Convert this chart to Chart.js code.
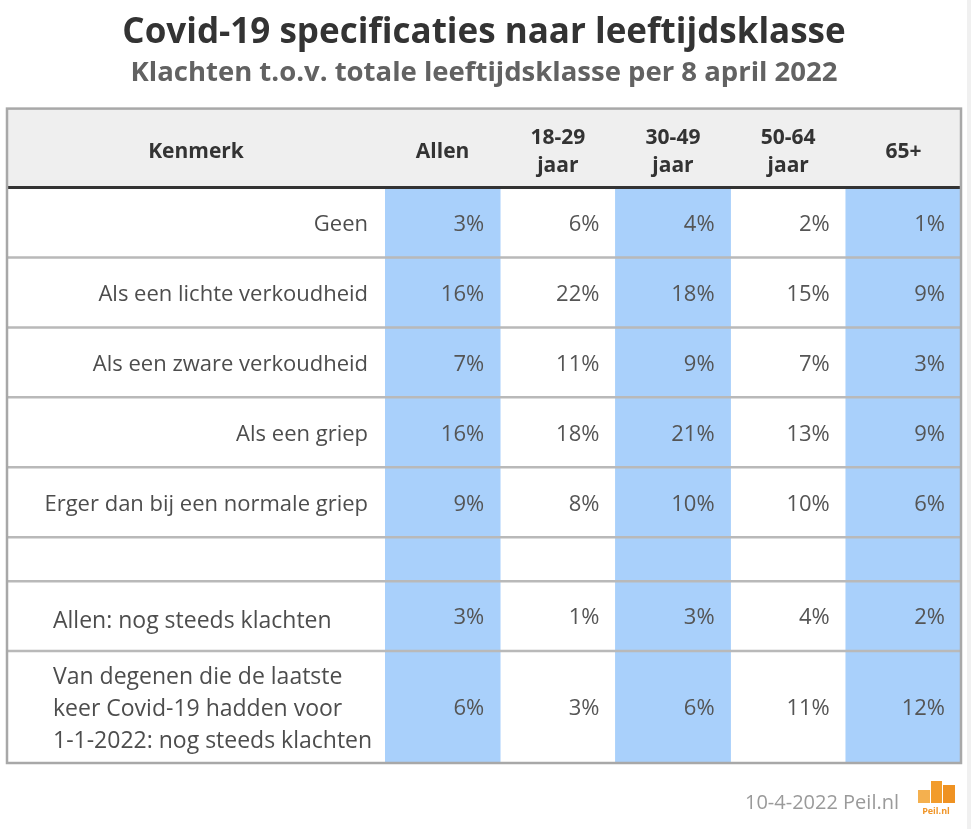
<!DOCTYPE html>
<html>
<head>
<meta charset="utf-8">
<script src="https://cdn.jsdelivr.net/npm/chart.js@4.4.1/dist/chart.umd.min.js"></script>
<style>
  html, body { margin: 0; padding: 0; background: #fff; }
  canvas { display: block; }
</style>
</head>
<body>
<canvas id="table" width="971" height="829"></canvas>
<script>
// rows of the table (Kenmerk)
const rowLabels = [
  "Geen",
  "Als een lichte verkoudheid",
  "Als een zware verkoudheid",
  "Als een griep",
  "Erger dan bij een normale griep",
  "",
  "Allen: nog steeds klachten",
  "Van degenen die de laatste\nkeer Covid-19 hadden voor\n1-1-2022: nog steeds klachten",
];

// column headers
const columnLabels = [["Allen"], ["18-29", "jaar"], ["30-49", "jaar"], ["50-64", "jaar"], ["65+"]];

// percentages per column
const allen = [3, 16, 7, 16, 9, null, 3, 6];
const jaar18_29 = [6, 22, 11, 18, 8, null, 1, 3];
const jaar30_49 = [4, 18, 9, 21, 10, null, 3, 6];
const jaar50_64 = [2, 15, 7, 13, 10, null, 4, 11];
const jaar65plus = [1, 9, 3, 9, 6, null, 2, 12];
const series = [allen, jaar18_29, jaar30_49, jaar50_64, jaar65plus];

// layout of the table
const headerHeight = 79;
const rowHeights = [70, 70, 70, 70, 70, 44, 70, 112];
const shadedColumns = [0, 2, 4];
const leftAlignedFrom = 6;

const rowTops = [];
let acc = headerHeight;
rowHeights.forEach((h) => { rowTops.push(acc); acc += h; });
const tableBottom = acc;

const FONT = "'Open Sans', 'Noto Sans', sans-serif";

const shadeData = columnLabels.map((_, i) =>
  shadedColumns.includes(i) ? [headerHeight, tableBottom] : null
);

const tablePlugin = {
  id: "tablePlugin",
  beforeDraw(chart) {
    const { ctx, width, height } = chart;
    ctx.save();
    ctx.fillStyle = "#fff";
    ctx.fillRect(0, 0, width, height);
    ctx.fillStyle = "#f0f0f0";
    ctx.fillRect(width - 4, 0, 4, height);
    ctx.restore();
  },
  beforeDatasetsDraw(chart) {
    const { ctx, chartArea, scales: { y } } = chart;
    const top = y.getPixelForValue(0);
    const bottom = y.getPixelForValue(headerHeight);
    ctx.save();
    ctx.fillStyle = "#efefef";
    ctx.fillRect(y.left, top, chartArea.right - y.left, bottom - top);
    ctx.restore();
  },
  afterDatasetsDraw(chart) {
    const { ctx, chartArea, scales: { x, y } } = chart;
    const left = y.left;
    const right = chartArea.right;
    ctx.save();

    // row separators
    ctx.strokeStyle = "#b9b9b9";
    ctx.lineWidth = 2.5;
    rowTops.slice(1).forEach((t) => {
      const py = y.getPixelForValue(t);
      ctx.beginPath();
      ctx.moveTo(left, py);
      ctx.lineTo(right, py);
      ctx.stroke();
    });

    // header bottom line
    ctx.strokeStyle = "#333";
    ctx.lineWidth = 3;
    const hb = y.getPixelForValue(headerHeight);
    ctx.beginPath();
    ctx.moveTo(left, hb);
    ctx.lineTo(right, hb);
    ctx.stroke();

    // outer border
    ctx.strokeStyle = "#a8a8a8";
    ctx.lineWidth = 2.5;
    const top = y.getPixelForValue(0);
    const bottom = y.getPixelForValue(tableBottom);
    ctx.strokeRect(left, top, right - left, bottom - top);

    // header text
    ctx.fillStyle = "#333";
    ctx.font = `bold 21px ${FONT}`;
    ctx.textAlign = "center";
    ctx.textBaseline = "middle";
    const hc = y.getPixelForValue(headerHeight / 2) + 3.5;
    ctx.fillText("Kenmerk", (left + chartArea.left) / 2, hc);
    columnLabels.forEach((lines, i) => {
      const cx = x.getPixelForValue(i);
      lines.forEach((line, k) => {
        ctx.fillText(line, cx, hc + (k - (lines.length - 1) / 2) * 28);
      });
    });

    // row labels
    ctx.fillStyle = "#4d4d4d";
    rowLabels.forEach((label, r) => {
      if (!label) return;
      const cy = y.getPixelForValue(rowTops[r] + rowHeights[r] / 2) + 2;
      const lines = label.split("\n");
      if (r >= leftAlignedFrom) {
        ctx.font = `23px ${FONT}`;
        ctx.textAlign = "left";
        const shift = lines.length === 1 ? 3 : 0;
        lines.forEach((line, k) => {
          ctx.fillText(line, left + 46, cy + shift + (k - (lines.length - 1) / 2) * 32);
        });
      } else {
        ctx.font = `22px ${FONT}`;
        ctx.textAlign = "right";
        ctx.fillText(label, chartArea.left - 17, cy);
      }
    });

    // values
    ctx.fillStyle = "#555";
    ctx.font = `22px ${FONT}`;
    ctx.textAlign = "right";
    series.forEach((values, i) => {
      const rx = x.getPixelForValue(i + 0.5) - 16;
      values.forEach((v, r) => {
        if (v === null) return;
        const cy = y.getPixelForValue(rowTops[r] + rowHeights[r] / 2) + 2;
        ctx.fillText(`${v}%`, rx, cy);
      });
    });
    ctx.restore();
  },
  afterDraw(chart) {
    const { ctx } = chart;
    ctx.save();
    ctx.fillStyle = "#9a9a9a";
    ctx.font = `20px ${FONT}`;
    ctx.textAlign = "right";
    ctx.textBaseline = "middle";
    ctx.fillText("10-4-2022 Peil.nl", 899, 803);

    // Peil.nl logo
    ctx.fillStyle = "#f4b04f";
    ctx.fillRect(918, 790, 12, 13);
    ctx.fillStyle = "#f29c2b";
    ctx.fillRect(931, 781, 11, 22);
    ctx.fillStyle = "#ef9222";
    ctx.fillRect(943, 785, 12, 18);
    ctx.fillStyle = "#f0962a";
    ctx.font = `bold 9px ${FONT}`;
    ctx.textAlign = "center";
    ctx.fillText("Peil.nl", 936, 811);
    ctx.restore();
  },
};

new Chart(document.getElementById("table"), {
  type: "bar",
  data: {
    labels: columnLabels.map((l) => l.join(" ")),
    datasets: [
      {
        data: shadeData,
        backgroundColor: "#a9d0fb",
        borderWidth: 0,
        barPercentage: 1,
        categoryPercentage: 1,
      },
    ],
  },
  options: {
    responsive: false,
    animation: false,
    events: [],
    layout: { padding: { left: 7, right: 10, top: 0, bottom: 66 } },
    plugins: {
      legend: { display: false },
      tooltip: { enabled: false },
      title: {
        display: true,
        text: "Covid-19 specificaties naar leeftijdsklasse",
        color: "#333",
        font: { family: FONT, size: 35, weight: "bold" },
        padding: { top: 12.4, bottom: 2.4 },
      },
      subtitle: {
        display: true,
        text: "Klachten t.o.v. totale leeftijdsklasse per 8 april 2022",
        color: "#626262",
        font: { family: FONT, size: 27.5, weight: "bold" },
        padding: { top: 0, bottom: 18.8 },
      },
    },
    scales: {
      x: { display: false },
      y: {
        type: "linear",
        reverse: true,
        min: 0,
        max: tableBottom,
        ticks: { display: false },
        grid: { display: false },
        border: { display: false },
        afterFit(scale) { scale.width = 378; },
      },
    },
  },
  plugins: [tablePlugin],
});
</script>
</body>
</html>
